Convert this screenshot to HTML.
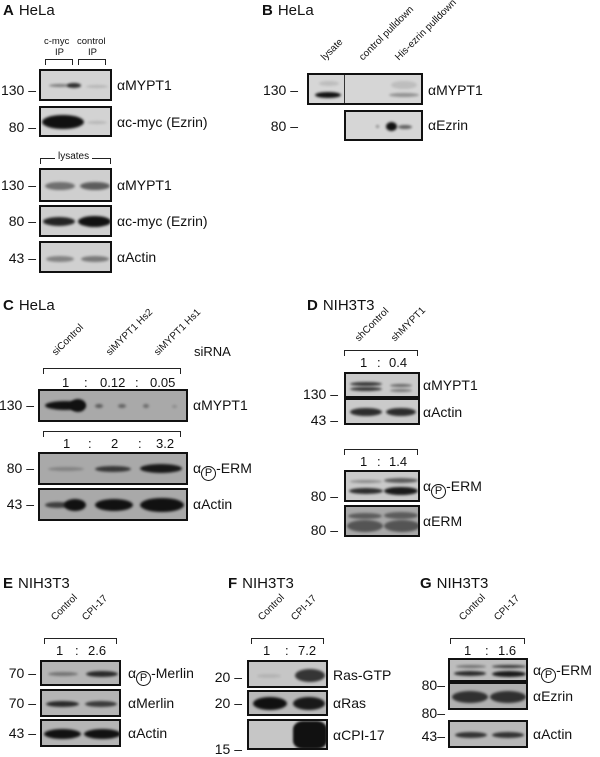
<!DOCTYPE html>
<html><head><meta charset="utf-8"><style>
body{margin:0;width:600px;height:754px;background:#fff;position:relative;overflow:hidden;font-family:"Liberation Sans",Arial,sans-serif;color:#111}
div,span{position:absolute}
.k{border:2px solid #111;box-sizing:border-box;overflow:hidden}
.b{background:#111;border-radius:50%;filter:blur(1.3px)}
.t{font-size:15px;white-space:nowrap}
.t b{font-weight:bold;margin-right:5px}
.l{font-size:14px;white-space:nowrap;line-height:16px}
.m{font-size:14px;white-space:nowrap;line-height:16px;text-align:right;width:40px}
.r{font-size:10px;white-space:nowrap;transform:rotate(-45deg);transform-origin:0 100%;line-height:11px}
.br{border:1.5px solid #222;border-bottom:none;height:6px;box-sizing:border-box}
.q{font-size:13px;line-height:14px;white-space:nowrap}
.p{display:inline-block;width:15px;height:15px;border:1.3px solid #111;border-radius:50%;font-size:11px;line-height:13px;text-align:center;vertical-align:-3px;box-sizing:border-box;position:static}
</style></head><body>

<!-- A -->
<div class="t" style="left:3px;top:2px"><b>A</b>HeLa</div>
<div style="left:44px;top:36px;font-size:9.5px;line-height:11px;white-space:nowrap">c-myc</div>
<div style="left:55px;top:47px;font-size:9.5px;line-height:11px">IP</div>
<div style="left:77px;top:36px;font-size:9.5px;line-height:11px;white-space:nowrap">control</div>
<div style="left:88px;top:47px;font-size:9.5px;line-height:11px">IP</div>
<div class="br" style="left:45px;top:59px;width:28px"></div>
<div class="br" style="left:78px;top:59px;width:28px"></div>
<div class="br" style="left:40px;top:158px;width:71px"></div>
<div style="left:55px;top:150px;font-size:10px;background:#fff;padding:0 3px;line-height:13px">lysates</div>

<div class="k" style="left:39px;top:69px;width:73px;height:32px;background:#d3d3d3">
<div class="b" style="left:8px;top:13px;width:22px;height:3px;opacity:.45"></div>
<div class="b" style="left:26px;top:12px;width:14px;height:5px;opacity:.85"></div>
<div class="b" style="left:45px;top:14px;width:22px;height:3px;opacity:.15"></div></div>
<div class="k" style="left:39px;top:106px;width:73px;height:31px;background:#d3d3d3">
<div class="b" style="left:1px;top:7px;width:42px;height:14px"></div>
<div class="b" style="left:46px;top:13px;width:20px;height:3px;opacity:.15"></div></div>
<div class="k" style="left:39px;top:168px;width:73px;height:34px;background:#cfcfcf">
<div class="b" style="left:4px;top:12px;width:30px;height:8px;opacity:.5"></div>
<div class="b" style="left:39px;top:12px;width:30px;height:8px;opacity:.6"></div></div>
<div class="k" style="left:39px;top:205px;width:73px;height:32px;background:#cfcfcf">
<div class="b" style="left:2px;top:10px;width:32px;height:9px;opacity:.9"></div>
<div class="b" style="left:37px;top:9px;width:33px;height:11px"></div></div>
<div class="k" style="left:39px;top:241px;width:73px;height:32px;background:#d0d0d0">
<div class="b" style="left:5px;top:13px;width:28px;height:6px;opacity:.4"></div>
<div class="b" style="left:40px;top:13px;width:28px;height:6px;opacity:.45"></div></div>
<div class="l" style="left:117px;top:77px">αMYPT1</div>
<div class="l" style="left:117px;top:114px">αc-myc (Ezrin)</div>
<div class="l" style="left:117px;top:177px">αMYPT1</div>
<div class="l" style="left:117px;top:213px">αc-myc (Ezrin)</div>
<div class="l" style="left:117px;top:249px">αActin</div>
<div class="m" style="left:-4px;top:82px">130 –</div>
<div class="m" style="left:-4px;top:119px">80 –</div>
<div class="m" style="left:-4px;top:177px">130 –</div>
<div class="m" style="left:-4px;top:213px">80 –</div>
<div class="m" style="left:-4px;top:250px">43 –</div>

<!-- B -->
<div class="t" style="left:262px;top:2px"><b>B</b>HeLa</div>
<div class="r" style="left:327px;top:52px">lysate</div>
<div class="r" style="left:365px;top:52px">control pulldown</div>
<div class="r" style="left:401px;top:52px">His-ezrin pulldown</div>
<div class="k" style="left:307px;top:73px;width:116px;height:32px;background:#d6d6d6">
<div style="left:35px;top:0;width:1px;height:32px;background:#333"></div>
<div class="b" style="left:6px;top:17px;width:26px;height:6px"></div>
<div class="b" style="left:10px;top:6px;width:20px;height:5px;opacity:.12"></div>
<div class="b" style="left:80px;top:18px;width:30px;height:4px;opacity:.35"></div>
<div class="b" style="left:82px;top:6px;width:26px;height:8px;opacity:.12"></div></div>
<div class="k" style="left:344px;top:110px;width:79px;height:31px;background:#d6d6d6">
<div class="b" style="left:40px;top:10px;width:11px;height:9px"></div>
<div class="b" style="left:52px;top:13px;width:14px;height:4px;opacity:.6"></div>
<div class="b" style="left:30px;top:13px;width:3px;height:3px;opacity:.4"></div></div>
<div class="l" style="left:428px;top:82px">αMYPT1</div>
<div class="l" style="left:428px;top:117px">αEzrin</div>
<div class="m" style="left:258px;top:82px">130 –</div>
<div class="m" style="left:258px;top:118px">80 –</div>

<!-- C -->
<div class="t" style="left:3px;top:297px"><b>C</b>HeLa</div>
<div class="r" style="left:58px;top:347px">siControl</div>
<div class="r" style="left:112px;top:347px">siMYPT1 Hs2</div>
<div class="r" style="left:160px;top:347px">siMYPT1 Hs1</div>
<div class="q" style="left:194px;top:345px;font-size:13px">siRNA</div>
<div class="br" style="left:43px;top:368px;width:138px"></div>
<div class="q" style="left:62px;top:376px">1</div>
<div class="q" style="left:84px;top:376px">:</div>
<div class="q" style="left:100px;top:376px">0.12</div>
<div class="q" style="left:135px;top:376px">:</div>
<div class="q" style="left:150px;top:376px">0.05</div>
<div class="k" style="left:38px;top:389px;width:150px;height:33px;background:#a9a9a9">
<div class="b" style="left:5px;top:10px;width:40px;height:9px"></div>
<div class="b" style="left:30px;top:8px;width:16px;height:13px"></div>
<div class="b" style="left:55px;top:13px;width:8px;height:4px;opacity:.5"></div>
<div class="b" style="left:78px;top:13px;width:8px;height:4px;opacity:.45"></div>
<div class="b" style="left:103px;top:13px;width:6px;height:4px;opacity:.4"></div>
<div class="b" style="left:132px;top:14px;width:5px;height:3px;opacity:.2"></div></div>
<div class="br" style="left:43px;top:431px;width:138px"></div>
<div class="q" style="left:63px;top:437px">1</div>
<div class="q" style="left:88px;top:437px">:</div>
<div class="q" style="left:111px;top:437px">2</div>
<div class="q" style="left:138px;top:437px">:</div>
<div class="q" style="left:156px;top:437px">3.2</div>
<div class="k" style="left:38px;top:452px;width:150px;height:33px;background:#a9a9a9">
<div class="b" style="left:8px;top:13px;width:36px;height:4px;opacity:.25"></div>
<div class="b" style="left:55px;top:12px;width:36px;height:6px;opacity:.75"></div>
<div class="b" style="left:100px;top:10px;width:42px;height:9px;opacity:.95"></div></div>
<div class="k" style="left:38px;top:488px;width:150px;height:33px;background:#a9a9a9">
<div class="b" style="left:5px;top:12px;width:25px;height:6px;opacity:.7"></div>
<div class="b" style="left:24px;top:9px;width:22px;height:12px"></div>
<div class="b" style="left:55px;top:9px;width:38px;height:12px"></div>
<div class="b" style="left:100px;top:8px;width:44px;height:14px"></div></div>
<div class="l" style="left:193px;top:397px">αMYPT1</div>
<div class="l" style="left:193px;top:460px">α<span class="p">P</span>-ERM</div>
<div class="l" style="left:193px;top:496px">αActin</div>
<div class="m" style="left:-6px;top:397px">130 –</div>
<div class="m" style="left:-6px;top:460px">80 –</div>
<div class="m" style="left:-6px;top:496px">43 –</div>

<!-- D -->
<div class="t" style="left:307px;top:297px"><b>D</b>NIH3T3</div>
<div class="r" style="left:361px;top:333px">shControl</div>
<div class="r" style="left:397px;top:333px">shMYPT1</div>
<div class="br" style="left:344px;top:350px;width:74px"></div>
<div class="q" style="left:360px;top:356px">1</div>
<div class="q" style="left:377px;top:356px">:</div>
<div class="q" style="left:389px;top:356px">0.4</div>
<div class="k" style="left:344px;top:372px;width:76px;height:26px;background:#cacaca">
<div class="b" style="left:4px;top:8px;width:32px;height:4px;opacity:.8"></div>
<div class="b" style="left:4px;top:13px;width:32px;height:4px;opacity:.8"></div>
<div class="b" style="left:44px;top:10px;width:22px;height:3px;opacity:.55"></div>
<div class="b" style="left:44px;top:15px;width:22px;height:3px;opacity:.45"></div></div>
<div class="k" style="left:344px;top:398px;width:76px;height:27px;background:#cacaca">
<div class="b" style="left:4px;top:8px;width:32px;height:8px;opacity:.85"></div>
<div class="b" style="left:40px;top:8px;width:30px;height:8px;opacity:.85"></div></div>
<div class="br" style="left:344px;top:449px;width:74px"></div>
<div class="q" style="left:360px;top:455px">1</div>
<div class="q" style="left:377px;top:455px">:</div>
<div class="q" style="left:389px;top:455px">1.4</div>
<div class="k" style="left:344px;top:470px;width:76px;height:32px;background:#cacaca">
<div class="b" style="left:4px;top:8px;width:32px;height:3px;opacity:.35"></div>
<div class="b" style="left:3px;top:16px;width:34px;height:6px;opacity:.85"></div>
<div class="b" style="left:38px;top:6px;width:34px;height:5px;opacity:.6"></div>
<div class="b" style="left:38px;top:15px;width:34px;height:8px;opacity:.95"></div></div>
<div class="k" style="left:344px;top:505px;width:76px;height:32px;background:#a8a8a8">
<div class="b" style="left:2px;top:6px;width:34px;height:6px;opacity:.5"></div>
<div class="b" style="left:1px;top:13px;width:36px;height:12px;opacity:.55"></div>
<div class="b" style="left:38px;top:5px;width:34px;height:7px;opacity:.5"></div>
<div class="b" style="left:38px;top:13px;width:36px;height:12px;opacity:.55"></div></div>
<div class="l" style="left:423px;top:377px">αMYPT1</div>
<div class="l" style="left:423px;top:404px">αActin</div>
<div class="l" style="left:423px;top:478px">α<span class="p">P</span>-ERM</div>
<div class="l" style="left:423px;top:513px">αERM</div>
<div class="m" style="left:298px;top:386px">130 –</div>
<div class="m" style="left:298px;top:412px">43 –</div>
<div class="m" style="left:298px;top:488px">80 –</div>
<div class="m" style="left:298px;top:522px">80 –</div>

<!-- E -->
<div class="t" style="left:3px;top:575px"><b>E</b>NIH3T3</div>
<div class="r" style="left:57px;top:612px">Control</div>
<div class="r" style="left:88px;top:612px">CPI-17</div>
<div class="br" style="left:44px;top:638px;width:73px"></div>
<div class="q" style="left:56px;top:644px">1</div>
<div class="q" style="left:75px;top:644px">:</div>
<div class="q" style="left:88px;top:644px">2.6</div>
<div class="k" style="left:40px;top:660px;width:81px;height:26px;background:#b5b5b5">
<div class="b" style="left:6px;top:10px;width:30px;height:4px;opacity:.4"></div>
<div class="b" style="left:44px;top:9px;width:32px;height:6px;opacity:.85"></div></div>
<div class="k" style="left:40px;top:689px;width:81px;height:28px;background:#b5b5b5">
<div class="b" style="left:4px;top:10px;width:33px;height:6px;opacity:.85"></div>
<div class="b" style="left:43px;top:10px;width:32px;height:6px;opacity:.75"></div></div>
<div class="k" style="left:40px;top:719px;width:81px;height:28px;background:#b5b5b5">
<div class="b" style="left:2px;top:8px;width:37px;height:10px"></div>
<div class="b" style="left:42px;top:8px;width:37px;height:10px"></div></div>
<div class="l" style="left:128px;top:665px">α<span class="p">P</span>-Merlin</div>
<div class="l" style="left:128px;top:695px">αMerlin</div>
<div class="l" style="left:128px;top:725px">αActin</div>
<div class="m" style="left:-4px;top:665px">70 –</div>
<div class="m" style="left:-4px;top:695px">70 –</div>
<div class="m" style="left:-4px;top:725px">43 –</div>

<!-- F -->
<div class="t" style="left:228px;top:575px"><b>F</b>NIH3T3</div>
<div class="r" style="left:264px;top:612px">Control</div>
<div class="r" style="left:297px;top:612px">CPI-17</div>
<div class="br" style="left:251px;top:638px;width:73px"></div>
<div class="q" style="left:263px;top:644px">1</div>
<div class="q" style="left:285px;top:644px">:</div>
<div class="q" style="left:298px;top:644px">7.2</div>
<div class="k" style="left:247px;top:660px;width:81px;height:28px;background:#c6c6c6">
<div class="b" style="left:8px;top:12px;width:24px;height:4px;opacity:.1"></div>
<div class="b" style="left:46px;top:7px;width:30px;height:13px;opacity:.8"></div></div>
<div class="k" style="left:247px;top:690px;width:81px;height:26px;background:#b8b8b8">
<div class="b" style="left:4px;top:5px;width:34px;height:13px"></div>
<div class="b" style="left:44px;top:5px;width:32px;height:13px;opacity:.95"></div></div>
<div class="k" style="left:247px;top:719px;width:81px;height:31px;background:#c6c6c6">
<div class="b" style="left:44px;top:0px;width:34px;height:28px;border-radius:30%;filter:blur(1px)"></div></div>
<div class="l" style="left:333px;top:667px">Ras-GTP</div>
<div class="l" style="left:333px;top:695px">αRas</div>
<div class="l" style="left:333px;top:727px">αCPI-17</div>
<div class="m" style="left:202px;top:669px">20 –</div>
<div class="m" style="left:202px;top:695px">20 –</div>
<div class="m" style="left:202px;top:741px">15 –</div>

<!-- G -->
<div class="t" style="left:420px;top:575px"><b>G</b>NIH3T3</div>
<div class="r" style="left:465px;top:612px">Control</div>
<div class="r" style="left:500px;top:612px">CPI-17</div>
<div class="br" style="left:450px;top:638px;width:75px"></div>
<div class="q" style="left:464px;top:644px">1</div>
<div class="q" style="left:485px;top:644px">:</div>
<div class="q" style="left:498px;top:644px">1.6</div>
<div class="k" style="left:448px;top:658px;width:80px;height:24px;background:#bdbdbd">
<div class="b" style="left:6px;top:5px;width:30px;height:3px;opacity:.45"></div>
<div class="b" style="left:4px;top:11px;width:32px;height:5px;opacity:.85"></div>
<div class="b" style="left:42px;top:5px;width:34px;height:3px;opacity:.8"></div>
<div class="b" style="left:42px;top:11px;width:34px;height:6px;opacity:.95"></div></div>
<div class="k" style="left:448px;top:682px;width:80px;height:28px;background:#b0b0b0">
<div class="b" style="left:2px;top:7px;width:36px;height:12px;opacity:.8"></div>
<div class="b" style="left:40px;top:7px;width:36px;height:12px;opacity:.8"></div></div>
<div class="k" style="left:448px;top:720px;width:80px;height:28px;background:#b8b8b8">
<div class="b" style="left:5px;top:10px;width:32px;height:6px;opacity:.8"></div>
<div class="b" style="left:42px;top:10px;width:32px;height:6px;opacity:.8"></div></div>
<div class="l" style="left:533px;top:662px">α<span class="p">P</span>-ERM</div>
<div class="l" style="left:533px;top:688px">αEzrin</div>
<div class="l" style="left:533px;top:726px">αActin</div>
<div class="m" style="left:405px;top:677px">80–</div>
<div class="m" style="left:405px;top:705px">80–</div>
<div class="m" style="left:405px;top:728px">43–</div>

</body></html>
